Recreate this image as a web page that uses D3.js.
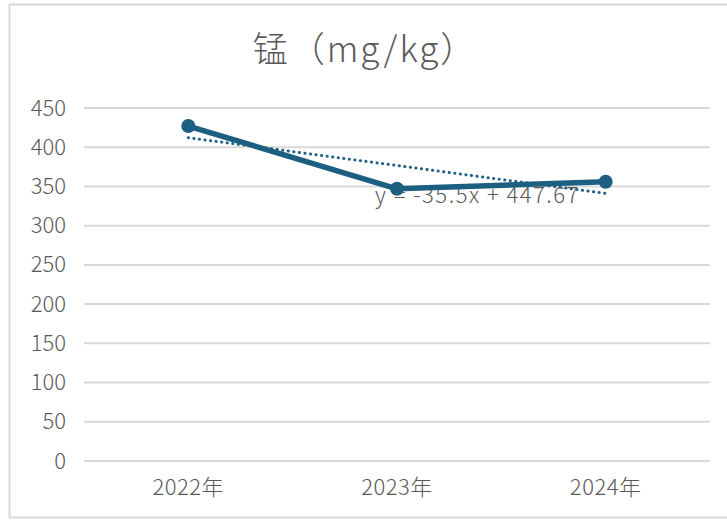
<!DOCTYPE html>
<html>
<head>
<meta charset="utf-8">
<script src="https://cdn.jsdelivr.net/npm/d3@7"></script>
<style>
  body { margin: 0; background: #fff; }
  svg { display: block; }
  text { font-family: "Noto Sans CJK SC", "Noto Sans", sans-serif; font-weight: 300; }
</style>
</head>
<body>
<svg id="chart" width="727" height="521"></svg>
<script>
// DATA
var categories = ["2022年", "2023年", "2024年"];
var values = [427, 347, 356];
var yTicks = [0, 50, 100, 150, 200, 250, 300, 350, 400, 450];
var trendSlope = -35.5;
var trendIntercept = 447.67;
var trendLabel = "y = -35.5x + 447.67";

var svg = d3.select("#chart");
var W = 727, H = 521;
var margin = { left: 84, right: 17, top: 108, bottom: 60 };
var lineColor = "#1c5f80";
var textColor = "#595959";

// frame
svg.append("rect")
    .attr("x", 9.5).attr("y", 4.5)
    .attr("width", W + 10).attr("height", H - 8)
    .attr("fill", "#fff")
    .attr("stroke", "#d9d9d9").attr("stroke-width", 2);

var x = d3.scaleBand()
    .domain(categories)
    .range([margin.left, W - margin.right]);
var y = d3.scaleLinear()
    .domain([0, 450])
    .range([H - margin.bottom, margin.top]);

// gridlines
svg.append("g")
    .selectAll("line")
    .data(yTicks)
    .join("line")
    .attr("x1", margin.left).attr("x2", W - margin.right)
    .attr("y1", function (d) { return y(d); })
    .attr("y2", function (d) { return y(d); })
    .attr("stroke", "#d9d9d9").attr("stroke-width", 2);

// y axis labels
var yAxis = svg.append("g")
    .attr("transform", "translate(" + (margin.left - 18) + ",0)")
    .call(d3.axisLeft(y).tickValues(yTicks).tickSize(0).tickPadding(0));
yAxis.select(".domain").remove();
yAxis.selectAll("text")
    .attr("fill", textColor)
    .style("font-size", "22px");

// x axis labels
var xAxis = svg.append("g")
    .attr("transform", "translate(0," + (H - margin.bottom) + ")")
    .call(d3.axisBottom(x).tickSize(0).tickPadding(18));
xAxis.select(".domain").remove();
xAxis.selectAll("text")
    .attr("fill", textColor)
    .style("font-size", "22px")
    .style("letter-spacing", "0.5px");

function cx(c) { return x(c) + x.bandwidth() / 2; }

// trendline (dotted)
var trendPts = categories.map(function (c, i) {
    return [cx(c), y(trendSlope * (i + 1) + trendIntercept)];
});
svg.append("path")
    .attr("d", d3.line()([trendPts[0], trendPts[trendPts.length - 1]]))
    .attr("fill", "none")
    .attr("stroke", lineColor)
    .attr("stroke-width", 3)
    .attr("stroke-linecap", "round")
    .attr("stroke-dasharray", "0.1 5.5");

// trend equation label
svg.append("text")
    .attr("x", 375).attr("y", 203)
    .attr("fill", textColor)
    .style("font-size", "22px")
    .style("letter-spacing", "1.5px")
    .text(trendLabel);

// data line
var line = d3.line()
    .x(function (d, i) { return cx(categories[i]); })
    .y(function (d) { return y(d); });
svg.append("path")
    .datum(values)
    .attr("d", line)
    .attr("fill", "none")
    .attr("stroke", lineColor)
    .attr("stroke-width", 5.5)
    .attr("stroke-linejoin", "round");

svg.append("g")
    .selectAll("circle")
    .data(values)
    .join("circle")
    .attr("cx", function (d, i) { return cx(categories[i]); })
    .attr("cy", function (d) { return y(d); })
    .attr("r", 7)
    .attr("fill", lineColor);

// title
svg.append("text")
    .attr("x", 365).attr("y", 62)
    .attr("text-anchor", "middle")
    .attr("fill", textColor)
    .style("font-size", "35px")
    .style("letter-spacing", "2px")
    .text("锰（mg/kg）");
</script>
</body>
</html>
